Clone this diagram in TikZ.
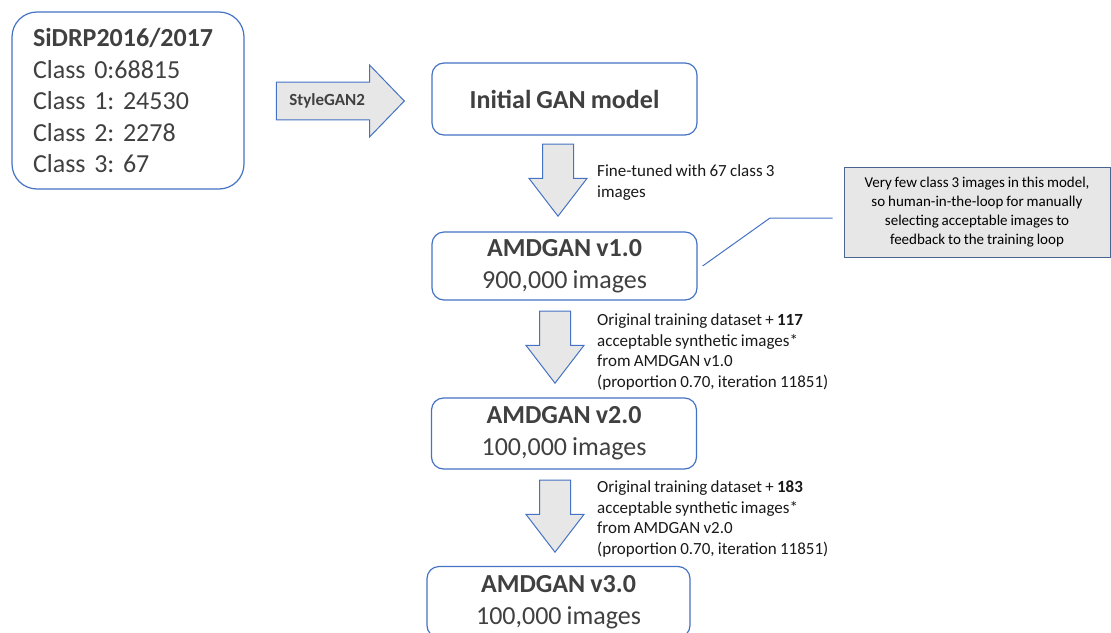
\documentclass[tikz,border=0pt]{standalone}
\usepackage{fontspec}
\setmainfont{Carlito}[WordSpace=0.85]
\frenchspacing
\usetikzlibrary{shapes.arrows}

\definecolor{edgeblue}{HTML}{4472C4}
\definecolor{notegray}{HTML}{4A6491}
\definecolor{textgray}{HTML}{404040}
\definecolor{shade}{HTML}{E7E7E7}

\begin{document}
\begin{tikzpicture}[x=1pt, y=-1pt,
    stage/.style={rectangle, draw=edgeblue, line width=1.2pt, rounded corners=12pt, text=textgray,
        align=center, minimum width=265pt, minimum height=70pt, inner sep=0pt,
        font=\fontsize{26}{32}\selectfont},
    blockarrow/.style={single arrow, draw=edgeblue, line width=1pt, fill=shade},
    downarrow/.style={blockarrow, shape border rotate=270, inner xsep=15pt, inner ysep=0pt,
        minimum width=57pt, minimum height=72pt,
        single arrow head extend=13.5pt, single arrow tip angle=75},
    step label/.style={anchor=west, align=left, inner sep=0pt, text=black!90,
        font=\fontsize{17}{20.7}\selectfont}
]
    \useasboundingbox (0,0) rectangle (1111,632);

    % data set and first model
    \node[stage, rounded corners=25pt, minimum width=232pt, minimum height=177pt,
        text width=190pt, align=left, font=\fontsize{26}{31.5}\selectfont] (data) at (128,100.5)
        {\textbf{SiDRP2016/2017}\\Class 0:68815\\Class 1: 24530\\Class 2: 2278\\Class 3: 67};
    \node[blockarrow, inner xsep=0pt, inner ysep=11pt, minimum width=72pt, minimum height=128pt,
        single arrow head extend=17pt, single arrow tip angle=92, anchor=tip,
        font=\fontsize{17}{20}\selectfont\bfseries, text=textgray] (gan) at (405,101)
        {\hspace*{-8pt}StyleGAN2};
    \node[stage, minimum height=72pt] (init) at (564.5,99) {\textbf{Initial GAN model}};

    % fine-tuning chain
    \node[downarrow, anchor=tip] (down1) at (558,217) {};
    \node[step label] (tune1) at (597,182.5) {Fine-tuned with 67 class 3\\images};
    \node[stage, minimum height=68pt] (v1) at (564.5,266) {\textbf{AMDGAN v1.0}\\900,000 images};

    \node[downarrow, anchor=tip] (down2) at (555,384) {};
    \node[step label] (tune2) at (597,352) {Original training dataset + \textbf{117}\\acceptable synthetic images*\\from AMDGAN v1.0\\(proportion 0.70, iteration 11851)};
    \node[stage, minimum height=71pt] (v2) at (564,433.5) {\textbf{AMDGAN v2.0}\\100,000 images};

    \node[downarrow, anchor=tip] (down3) at (555,553) {};
    \node[step label] (tune3) at (597,519) {Original training dataset + \textbf{183}\\acceptable synthetic images*\\from AMDGAN v2.0\\(proportion 0.70, iteration 11851)};
    \node[stage, minimum width=263pt, minimum height=71pt] (v3) at (558.5,602) {\textbf{AMDGAN v3.0}\\100,000 images};

    % callout
    \node[rectangle, draw=notegray, line width=1pt, fill=shade, minimum width=266pt, minimum height=90pt,
        align=center, inner sep=0pt, font=\fontsize{15}{19}\selectfont] (note) at (977,212)
        {Very few class 3 images in this model,\\so human-in-the-loop for manually\\selecting acceptable images to\\feedback to the training loop};
    \coordinate (bend) at (770,218);
    \draw[edgeblue, line width=1pt] ([xshift=5pt]v1.east) -- (bend) -- ([xshift=-11pt, yshift=-6pt]note.west);
\end{tikzpicture}
\end{document}
